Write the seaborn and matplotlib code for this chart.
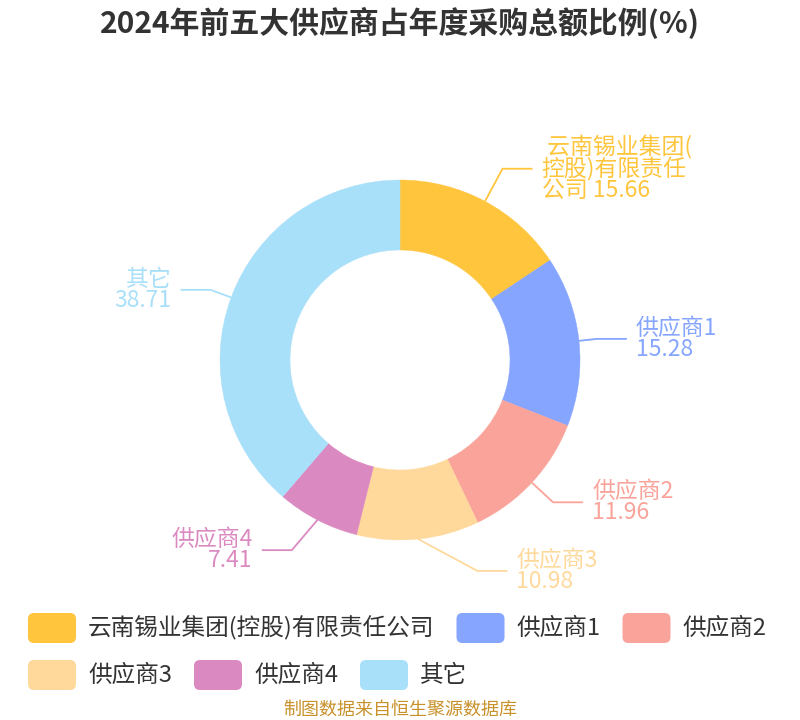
import numpy as np
import matplotlib
matplotlib.use('Agg')
import matplotlib.pyplot as plt
from matplotlib.patches import FancyBboxPatch, Wedge
import seaborn as sns

# Data.
suppliers = ['云南锡业集团(控股)有限责任公司', '供应商1', '供应商2', '供应商3', '供应商4', '其它']
label_names = [' 云南锡业集团(\n控股)有限责任\n公司', '供应商1', '供应商2', '供应商3', '供应商4', '其它']
shares = [15.66, 15.28, 11.96, 10.98, 7.41, 38.71]
title = '2024年前五大供应商占年度采购总额比例(%)'
source = '制图数据来自恒生聚源数据库'

colors = ['#FFC53D', '#85A5FF', '#FAA39A', '#FFD99C', '#DB89C1', '#A8E0FA']

# Label line tweaks (elbow radius and x shift, in pixels).
elbow_r = [217, 198, 209, 212, 214, 202]
elbow_dx = [0, 0, 0, 56, -10, 0]

sns.set_theme(style='white')
plt.rcParams['font.family'] = ['Noto Sans CJK SC', 'DejaVu Sans']

W, H = 800, 720
fig = plt.figure(figsize=(W / 100, H / 100), dpi=100)
ax = fig.add_axes([0, 0, 1, 1])
ax.set_xlim(0, W)
ax.set_ylim(H, 0)
ax.axis('off')

cx, cy, r_out, r_in = 400, 360, 180, 110

# Donut slices, clockwise from 12 o'clock.
start = 90.0
total = sum(shares)
angles = []
for v in shares:
    span = v / total * 360
    angles.append((start - span, start))
    start -= span

for (a0, a1), c in zip(angles, colors):
    # y axis is inverted, so negate the angles
    w = Wedge((cx, cy), r_out, -a1, -a0, width=r_out - r_in,
              facecolor=c, edgecolor=c, linewidth=0.3)
    ax.add_patch(w)

# Labels with elbow lines.
for i, ((a0, a1), c) in enumerate(zip(angles, colors)):
    mid = np.deg2rad((a0 + a1) / 2)
    dx, dy = np.cos(mid), -np.sin(mid)
    p0 = (cx + r_out * dx, cy + r_out * dy)
    p1 = (cx + elbow_r[i] * dx + elbow_dx[i], cy + elbow_r[i] * dy)
    side = 1 if dx >= 0 else -1
    p2 = (p1[0] + side * 30, p1[1])
    ax.plot([p0[0], p1[0], p2[0]], [p0[1], p1[1], p2[1]], color=c, lw=1.3,
            solid_capstyle='butt')
    if i == 0:
        txt = label_names[i] + ' ' + f'{shares[i]:.2f}'
    else:
        txt = label_names[i] + '\n' + f'{shares[i]:.2f}'
    ax.text(p2[0] + side * 9, p2[1], txt, color=c, fontsize=16.5,
            ha='left' if side > 0 else 'right', va='center',
            multialignment='left' if side > 0 else 'right', linespacing=0.88)

ax.text(W / 2, 23, title, ha='center', va='center', fontsize=21.5,
        fontweight='bold', color='#333333')

# Legend, flowing layout in two rows.
fig.canvas.draw()
renderer = fig.canvas.get_renderer()
rows = [[0, 1, 2], [3, 4, 5]]
row_y = [628, 675]
pw, ph = 48, 30
for row, y in zip(rows, row_y):
    x = 28
    for i in row:
        ax.add_patch(FancyBboxPatch((x, y - ph / 2), pw, ph,
                                    boxstyle='round,pad=0,rounding_size=6',
                                    facecolor=colors[i], edgecolor='none'))
        t = ax.text(x + pw + 12, y, suppliers[i], fontsize=17, color='#333333',
                    ha='left', va='center')
        bb = t.get_window_extent(renderer)
        x = x + pw + 12 + bb.width + 22

ax.text(W / 2, 710, source, ha='center', va='center', fontsize=13,
        color='#C8912A')

fig.savefig('out.png', dpi=100)
